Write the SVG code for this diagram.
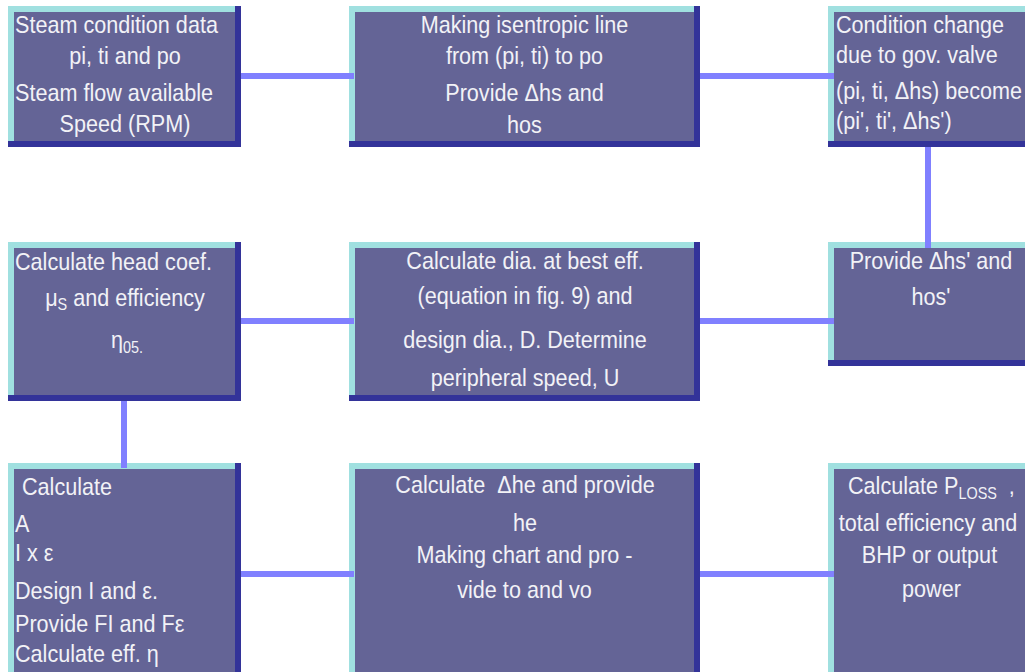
<svg xmlns="http://www.w3.org/2000/svg" width="1025" height="672" viewBox="0 0 1025 672">
  <style>
    .hi{fill:#a0e0e0}
    .lo{fill:#333399}
    .face{fill:#646496}
    .lbl{font-family:"Liberation Sans",Arial,sans-serif;font-size:24px;fill:#f2f2f6;white-space:pre}
    .c{text-anchor:middle}
    .sub{font-size:16px}
    .link{stroke:#8080ff;stroke-width:6;fill:none}
  </style>
  <rect width="1025" height="672" fill="#ffffff"/>

  <!-- Row 1 -->
  <g id="steam-data">
    <rect class="lo" x="8" y="6" width="233" height="141"/>
    <rect class="hi" x="8" y="6" width="227" height="135"/>
    <rect class="face" x="14" y="12" width="221" height="129"/>
    <text class="lbl" transform="translate(15 33) scale(.9 1)">Steam condition data</text>
    <text class="lbl c" transform="translate(125 64) scale(.9 1)">pi, ti and po</text>
    <text class="lbl" transform="translate(15 101) scale(.9 1)">Steam flow available</text>
    <text class="lbl c" transform="translate(125 132) scale(.9 1)">Speed (RPM)</text>
  </g>

  <g id="isentropic-line">
    <rect class="lo" x="349" y="6" width="351" height="141"/>
    <rect class="hi" x="349" y="6" width="345" height="135"/>
    <rect class="face" x="355" y="12" width="339" height="129"/>
    <text class="lbl c" transform="translate(524.5 33) scale(.9 1)">Making isentropic line</text>
    <text class="lbl c" transform="translate(524.5 64) scale(.9 1)">from (pi, ti) to po</text>
    <text class="lbl c" transform="translate(524.5 101) scale(.9 1)">Provide Δhs and</text>
    <text class="lbl c" transform="translate(524.5 133) scale(.9 1)">hos</text>
  </g>

  <g id="gov-valve">
    <rect class="lo" x="828" y="6" width="212" height="141"/>
    <rect class="hi" x="828" y="6" width="206" height="135"/>
    <rect class="face" x="834" y="12" width="200" height="129"/>
    <text class="lbl" transform="translate(836 33) scale(.9 1)">Condition change</text>
    <text class="lbl" transform="translate(836 63) scale(.9 1)">due to gov. valve</text>
    <text class="lbl" transform="translate(836 99) scale(.9 1)">(pi, ti, Δhs) become</text>
    <text class="lbl" transform="translate(836 129) scale(.9 1)">(pi', ti', Δhs')</text>
  </g>

  <!-- Row 2 -->
  <g id="head-coef">
    <rect class="lo" x="8" y="242" width="233" height="159"/>
    <rect class="hi" x="8" y="242" width="227" height="153"/>
    <rect class="face" x="14" y="248" width="221" height="147"/>
    <text class="lbl" transform="translate(15 270) scale(.9 1)">Calculate head coef.</text>
    <text class="lbl c" transform="translate(125 306) scale(.9 1)">μ<tspan class="sub" dy="4">S</tspan><tspan dy="-4"> and efficiency</tspan></text>
    <text class="lbl c" transform="translate(127 348) scale(.9 1)">η<tspan class="sub" dy="5">05.</tspan></text>
  </g>

  <g id="best-eff-dia">
    <rect class="lo" x="349" y="242" width="351" height="159"/>
    <rect class="hi" x="349" y="242" width="345" height="153"/>
    <rect class="face" x="355" y="248" width="339" height="147"/>
    <text class="lbl c" transform="translate(525 269) scale(.9 1)">Calculate dia. at best eff.</text>
    <text class="lbl c" transform="translate(525 304) scale(.9 1)">(equation in fig. 9) and</text>
    <text class="lbl c" transform="translate(525 348) scale(.9 1)">design dia., D. Determine</text>
    <text class="lbl c" transform="translate(525 386) scale(.9 1)">peripheral speed, U</text>
  </g>

  <g id="provide-hs">
    <rect class="lo" x="828" y="242" width="212" height="124"/>
    <rect class="hi" x="828" y="242" width="206" height="118"/>
    <rect class="face" x="834" y="248" width="200" height="112"/>
    <text class="lbl c" transform="translate(931 269) scale(.9 1)">Provide Δhs' and</text>
    <text class="lbl c" transform="translate(931 305) scale(.9 1)">hos'</text>
  </g>

  <!-- Row 3 -->
  <g id="design-i-eps">
    <rect class="lo" x="8" y="463" width="233" height="240"/>
    <rect class="hi" x="8" y="463" width="227" height="240"/>
    <rect class="face" x="14" y="469" width="221" height="240"/>
    <text class="lbl" transform="translate(22 495) scale(.9 1)">Calculate</text>
    <text class="lbl" transform="translate(15 532) scale(.9 1)">A</text>
    <text class="lbl" transform="translate(15 561) scale(.9 1)">I x ε</text>
    <text class="lbl" transform="translate(15 599) scale(.9 1)">Design I and ε.</text>
    <text class="lbl" transform="translate(15 632) scale(.9 1)">Provide FI and Fε</text>
    <text class="lbl" transform="translate(15 662) scale(.9 1)">Calculate eff. η</text>
  </g>

  <g id="he-chart">
    <rect class="lo" x="349" y="463" width="351" height="240"/>
    <rect class="hi" x="349" y="463" width="345" height="240"/>
    <rect class="face" x="355" y="469" width="339" height="240"/>
    <text class="lbl c" transform="translate(525 493) scale(.9 1)">Calculate  Δhe and provide</text>
    <text class="lbl c" transform="translate(525 531) scale(.9 1)">he</text>
    <text class="lbl c" transform="translate(524.5 563) scale(.9 1)">Making chart and pro -</text>
    <text class="lbl c" transform="translate(524.5 598) scale(.9 1)">vide to and vo</text>
  </g>

  <g id="output-power">
    <rect class="lo" x="828" y="463" width="212" height="240"/>
    <rect class="hi" x="828" y="463" width="206" height="240"/>
    <rect class="face" x="834" y="469" width="200" height="240"/>
    <text class="lbl" transform="translate(848 494) scale(.9 1)">Calculate P<tspan class="sub" dy="5">LOSS</tspan><tspan dy="-5">  ,</tspan></text>
    <text class="lbl c" transform="translate(928 531) scale(.9 1)">total efficiency and</text>
    <text class="lbl c" transform="translate(929.5 563) scale(.9 1)">BHP or output</text>
    <text class="lbl c" transform="translate(931.5 597) scale(.9 1)">power</text>
  </g>

  <!-- Connectors -->
  <g id="connectors">
    <line class="link" x1="241" y1="76" x2="354" y2="76"/>
    <line class="link" x1="700" y1="76" x2="834" y2="76"/>
    <line class="link" x1="928" y1="147" x2="928" y2="248"/>
    <line class="link" x1="700" y1="321" x2="834" y2="321"/>
    <line class="link" x1="241" y1="321" x2="354" y2="321"/>
    <line class="link" x1="124" y1="401" x2="124" y2="468"/>
    <line class="link" x1="241" y1="574" x2="354" y2="574"/>
    <line class="link" x1="700" y1="574" x2="834" y2="574"/>
  </g>
</svg>
